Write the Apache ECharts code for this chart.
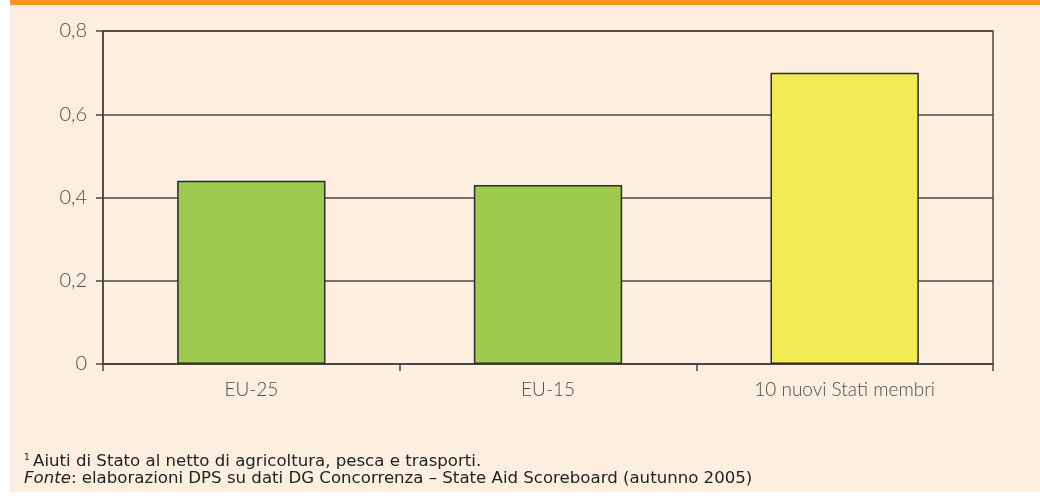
<html lang="it">
<head>
    <meta http-equiv="Content-Type" content="text/html; charset=utf-8" />
    <title>Aiuti di Stato</title>
    <script src="https://cdn.jsdelivr.net/npm/echarts@6/dist/echarts.min.js"></script>
</head>
<body style="padding:0px;margin:0px;overflow:hidden;background:#fff;">
<div id="main" style="width:1040px;height:504px;"></div>
<script type="text/javascript">
    var categories = ['EU-25', 'EU-15', '10 nuovi Stati membri'];
    var values = [0.44, 0.43, 0.70];
    var barColors = ['#9dc94f', '#9dc94f', '#f2eb54'];
    var yTicks = [0, 0.2, 0.4, 0.6, 0.8];
    var note1 = 'Aiuti di Stato al netto di agricoltura, pesca e trasporti.';
    var note2 = ': elaborazioni DPS su dati DG Concorrenza \u2013 State Aid Scoreboard (autunno 2005)';

    var myChart = echarts.init(document.getElementById('main'));
    var font = 'Lato, "Open Sans", sans-serif';
    var noteFont = '"DejaVu Sans", sans-serif';

    var barData = values.map(function (v, i) {
        return { value: v, itemStyle: { color: barColors[i] } };
    });

    option = {
        animation: false,
        backgroundColor: '#ffffff',
        graphic: [
            // fondo crema + striscia arancione in alto
            { type: 'rect', z: -10, shape: { x: 10, y: 0, width: 1030, height: 492 }, style: { fill: '#fdefe0' } },
            { type: 'rect', z: -9, shape: { x: 10, y: 0, width: 1030, height: 5 }, style: { fill: '#f7951d' } },
            {
                type: 'text', left: 24, top: 453,
                style: {
                    text: '{sup|1} {n|' + note1 + '}\n{i|Fonte}{n|' + note2 + '}',
                    rich: {
                        sup: { fontSize: 9, fontFamily: noteFont, fill: '#222', verticalAlign: 'top', lineHeight: 17 },
                        n: { fontSize: 16.6, fontFamily: noteFont, fill: '#222', lineHeight: 17 },
                        i: { fontSize: 16.6, fontFamily: noteFont, fontStyle: 'italic', fill: '#222', lineHeight: 17 }
                    }
                }
            }
        ],
        grid: {
            left: 103, right: 47, top: 31, bottom: 140,
            show: true, borderColor: '#4a4545', borderWidth: 1.5, backgroundColor: 'transparent'
        },
        xAxis: {
            type: 'category',
            data: categories,
            axisLine: { lineStyle: { color: '#4a4545', width: 1.5 } },
            axisTick: { show: true, length: 7, lineStyle: { color: '#4a4545', width: 1.5 } },
            axisLabel: { color: '#4d4d4d', fontSize: 19, fontWeight: 300, fontFamily: font, margin: 16 }
        },
        yAxis: {
            type: 'value',
            min: 0, max: 0.8, interval: 0.2,
            axisLine: { show: true, lineStyle: { color: '#4a4545', width: 1.5 } },
            axisTick: { show: true, length: 7, lineStyle: { color: '#4a4545', width: 1.5 } },
            splitLine: { show: true, lineStyle: { color: '#4a4545', width: 1.5 } },
            axisLabel: {
                color: '#4d4d4d', fontSize: 20, fontWeight: 300, fontFamily: font, margin: 16,
                formatter: function (v) {
                    var r = Math.round(v * 10) / 10;
                    return yTicks.indexOf(r) >= 0 ? String(r).replace('.', ',') : '';
                }
            }
        },
        series: [
            {
                type: 'bar',
                data: barData,
                barWidth: '50%',
                itemStyle: { borderColor: '#2e2a28', borderWidth: 1.5 }
            }
        ]
    };

    myChart.setOption(option);
</script>
</body>
</html>
